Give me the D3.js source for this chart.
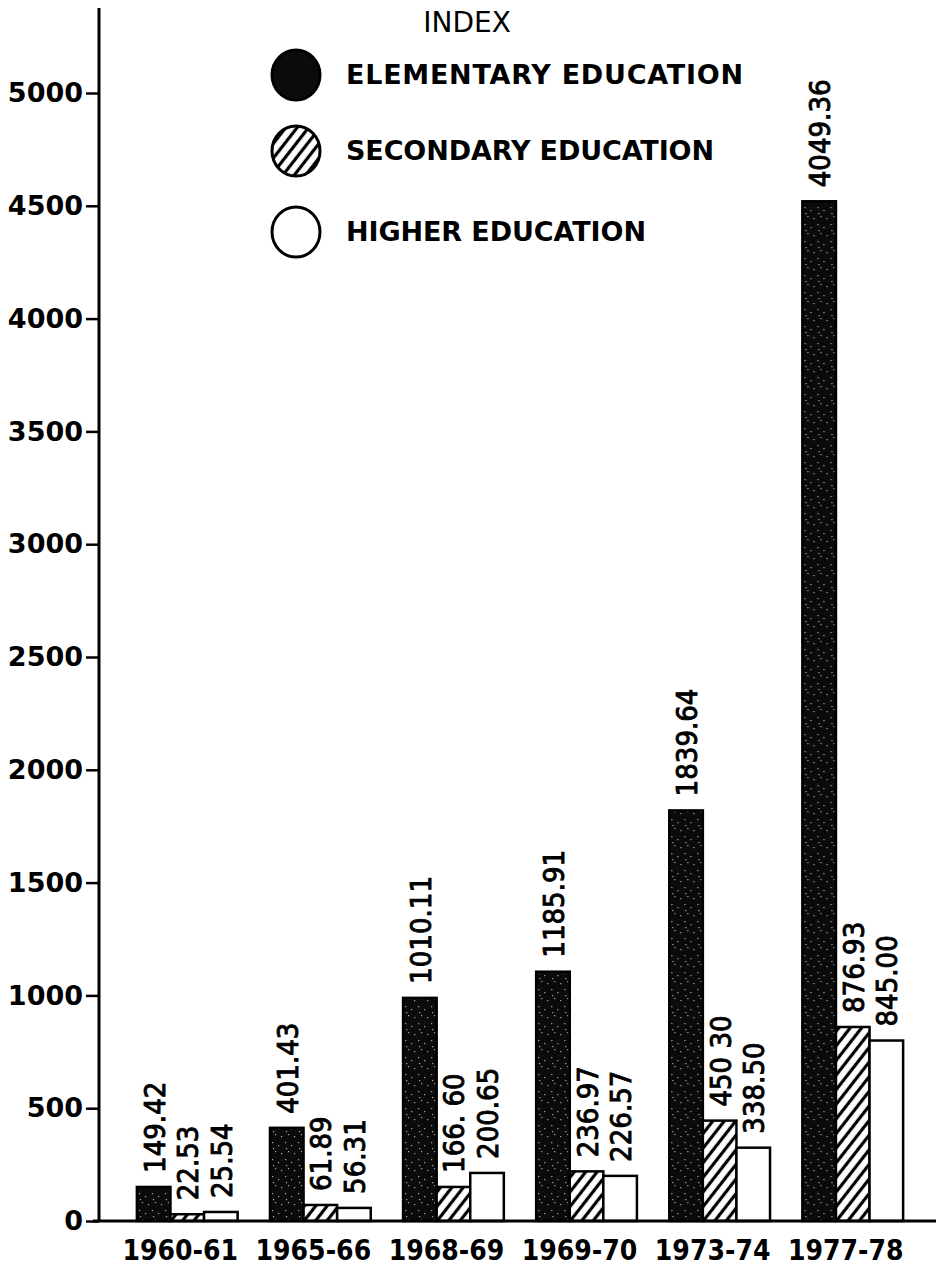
<!DOCTYPE html>
<html>
<head>
<meta charset="utf-8">
<script src="https://cdn.jsdelivr.net/npm/d3@7"></script>
<style>
  body { margin: 0; background: #fff; }
  svg { display: block; }
</style>
</head>
<body>
<div id="chart"></div>
<script>
var categories = ["1960-61", "1965-66", "1968-69", "1969-70", "1973-74", "1977-78"];
var seriesNames = ["ELEMENTARY EDUCATION", "SECONDARY EDUCATION", "HIGHER EDUCATION"];

var elementary = [151, 413, 989, 1105, 1820, 4520];
var secondary = [30, 71, 151, 220, 445, 860];
var higher = [40, 58, 213, 200, 325, 800];

var elementaryLabels = ["149.42", "401.43", "1010.11", "1185.91", "1839.64", "4049.36"];
var secondaryLabels = ["22.53", "61.89", "166. 60", "236.97", "450 30", "876.93"];
var higherLabels = ["25.54", "56.31", "200.65", "226.57", "338.50", "845.00"];

var yTicks = [0, 500, 1000, 1500, 2000, 2500, 3000, 3500, 4000, 4500, 5000];

var width = 936,
  height = 1270;

var condensed = "'DejaVu Sans Condensed', 'DejaVu Sans', sans-serif";
var plain = "'DejaVu Sans', sans-serif";

var svg = d3.select("#chart").append("svg")
  .attr("width", width)
  .attr("height", height);

var defs = svg.append("defs");

// speckled black for elementary
var speck = defs.append("pattern")
  .attr("id", "speck")
  .attr("patternUnits", "userSpaceOnUse")
  .attr("width", 13)
  .attr("height", 17);
speck.append("rect").attr("width", 13).attr("height", 17).attr("fill", "#0b0b0b");
[[2, 3], [8, 6], [5, 12], [11, 14], [3, 9]].forEach(function(p) {
  speck.append("rect")
    .attr("x", p[0]).attr("y", p[1])
    .attr("width", 1.2).attr("height", 1.2)
    .attr("fill", "#aaa");
});

// diagonal hatch for secondary
var hatch = defs.append("pattern")
  .attr("id", "hatch")
  .attr("patternUnits", "userSpaceOnUse")
  .attr("width", 9)
  .attr("height", 9)
  .attr("patternTransform", "rotate(38)");
hatch.append("rect").attr("width", 9).attr("height", 9).attr("fill", "#fff");
hatch.append("line")
  .attr("x1", 4.5).attr("y1", 0)
  .attr("x2", 4.5).attr("y2", 9)
  .attr("stroke", "#000")
  .attr("stroke-width", 3.2);

var fills = ["url(#speck)", "url(#hatch)", "#fff"];

var y = d3.scaleLinear()
  .domain([0, 5000])
  .range([1221, 93]);

var x = d3.scaleBand()
  .domain(categories)
  .range([104, 936])
  .paddingInner(0.243)
  .paddingOuter(0.247);

var xSub = d3.scaleBand()
  .domain(seriesNames)
  .range([0, x.bandwidth()]);

var rows = categories.map(function(c, i) {
  return [
    { cat: c, s: seriesNames[0], v: elementary[i], label: elementaryLabels[i] },
    { cat: c, s: seriesNames[1], v: secondary[i], label: secondaryLabels[i] },
    { cat: c, s: seriesNames[2], v: higher[i], label: higherLabels[i] }
  ];
});

// title (the scan cuts most of it off, kept whole here)
svg.append("text")
  .attr("x", 467)
  .attr("y", 32)
  .attr("text-anchor", "middle")
  .style("font-family", plain)
  .style("font-size", "28px")
  .text("INDEX");

// y axis
var yAxis = svg.append("g")
  .attr("transform", "translate(99,0)")
  .call(d3.axisLeft(y)
    .tickValues(yTicks)
    .tickFormat(d3.format("d"))
    .tickSize(13)
    .tickPadding(3)
    .tickSizeOuter(0));
yAxis.select(".domain").remove();
yAxis.selectAll(".tick line").attr("stroke", "#000").attr("stroke-width", 2.5);
yAxis.selectAll(".tick text")
  .style("font-family", plain)
  .style("font-weight", "bold")
  .style("font-size", "27px")
  .attr("fill", "#000");

svg.append("line")
  .attr("x1", 99).attr("x2", 99)
  .attr("y1", 8).attr("y2", y(0) + 1)
  .attr("stroke", "#000")
  .attr("stroke-width", 3);

// x axis
var xAxis = svg.append("g")
  .attr("transform", "translate(-7," + y(0) + ")")
  .call(d3.axisBottom(x).tickSize(0).tickPadding(19));
xAxis.select(".domain").remove();
xAxis.selectAll(".tick text")
  .style("font-family", condensed)
  .style("font-weight", "bold")
  .style("font-size", "28px")
  .attr("fill", "#000");

// bars
var groups = svg.selectAll(".group")
  .data(rows)
  .enter().append("g")
  .attr("class", "group")
  .attr("transform", function(d) { return "translate(" + x(d[0].cat) + ",0)"; });

groups.selectAll("rect")
  .data(function(d) { return d; })
  .enter().append("rect")
  .attr("x", function(d) { return xSub(d.s); })
  .attr("y", function(d) { return y(d.v); })
  .attr("width", xSub.bandwidth())
  .attr("height", function(d) { return y(0) - y(d.v); })
  .attr("fill", function(d, i) { return fills[i]; })
  .attr("stroke", "#000")
  .attr("stroke-width", 2.5);

groups.selectAll(".val")
  .data(function(d) { return d; })
  .enter().append("text")
  .attr("class", "val")
  .attr("transform", function(d) {
    return "translate(" + (xSub(d.s) + xSub.bandwidth() / 2 + 1) + "," + (y(d.v) - 14) + ") rotate(-90)";
  })
  .attr("dominant-baseline", "central")
  .style("font-family", condensed)
  .style("font-size", "29px")
  .attr("fill", "#000")
  .attr("stroke", "#000")
  .attr("stroke-width", 0.9)
  .text(function(d) { return d.label; });

svg.append("line")
  .attr("x1", 93).attr("x2", 936)
  .attr("y1", y(0)).attr("y2", y(0))
  .attr("stroke", "#000")
  .attr("stroke-width", 3);

// legend
var legendY = [75, 151, 232];
var legendLen = [397, 368, 300];
var legend = svg.selectAll(".legend")
  .data(seriesNames)
  .enter().append("g")
  .attr("class", "legend")
  .attr("transform", function(d, i) { return "translate(296," + legendY[i] + ")"; });

legend.append("ellipse")
  .attr("rx", 24)
  .attr("ry", 25)
  .attr("fill", function(d, i) { return i === 0 ? "#0b0b0b" : fills[i]; })
  .attr("stroke", "#000")
  .attr("stroke-width", 3);

legend.append("text")
  .attr("x", 50)
  .attr("y", 9)
  .attr("textLength", function(d, i) { return legendLen[i]; })
  .attr("lengthAdjust", "spacing")
  .style("font-family", plain)
  .style("font-weight", "bold")
  .style("font-size", "27px")
  .attr("fill", "#000")
  .text(function(d) { return d; });
</script>
</body>
</html>
